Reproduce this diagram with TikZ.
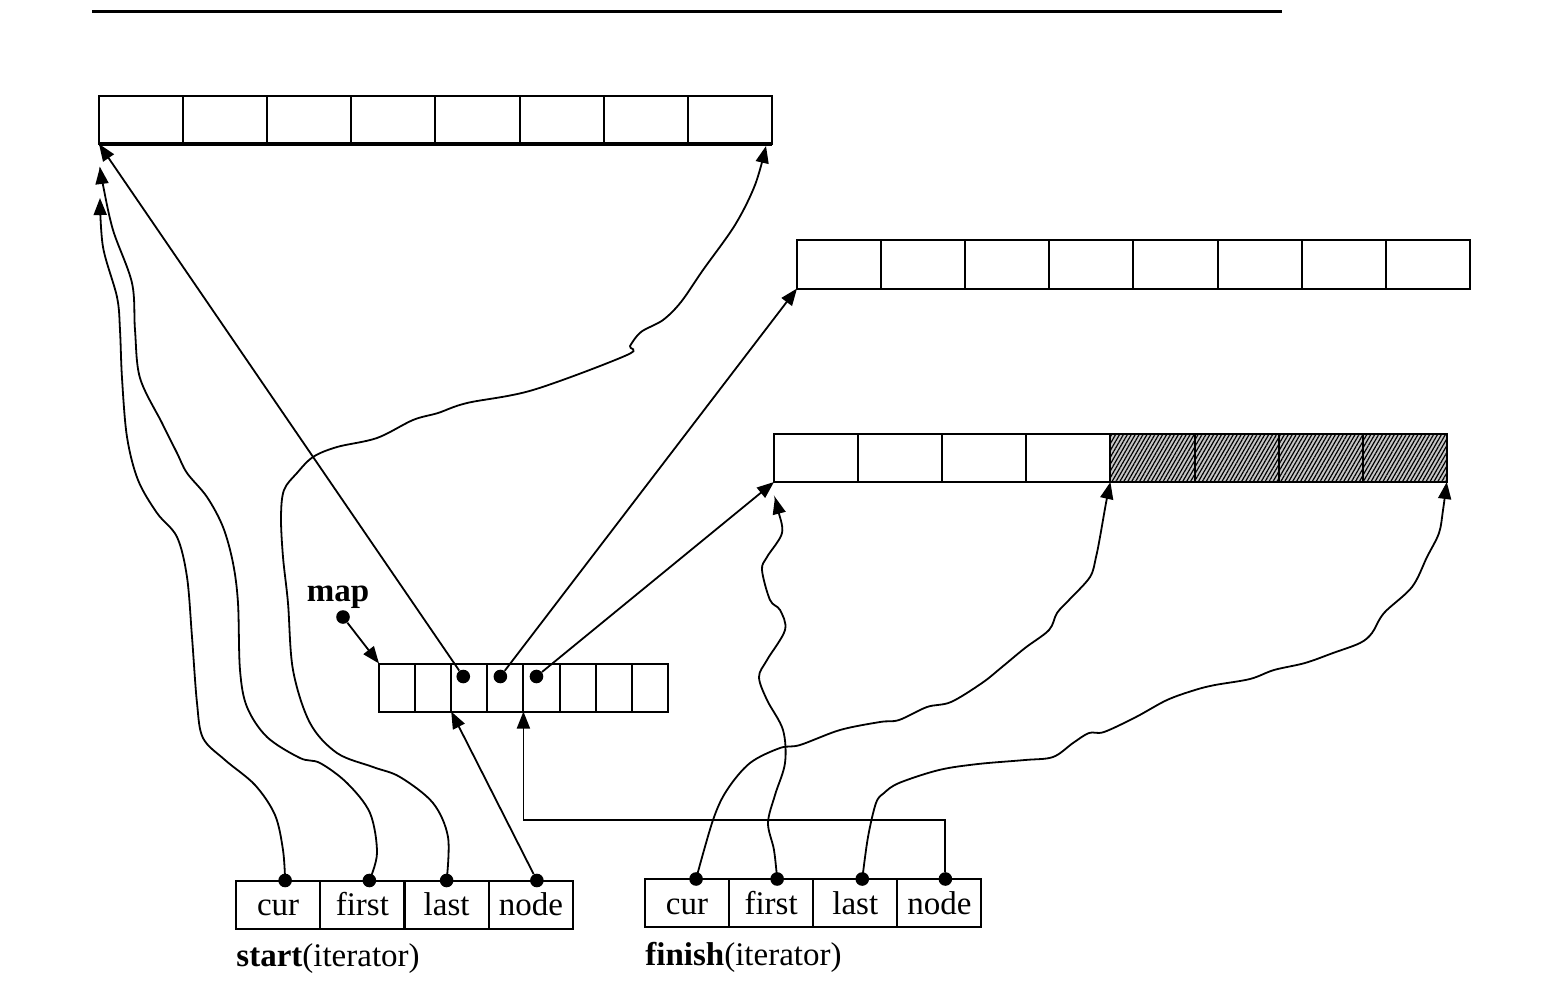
\documentclass[tikz,border=0pt]{standalone}
\usepackage{fontspec}
\setmainfont{Liberation Serif}
\usetikzlibrary{arrows.meta,patterns.meta,positioning}

\begin{document}
\begin{tikzpicture}[x=0.5pt,y=-0.5pt]
	% Styles (MODIFIABLES)
	\tikzstyle{fleche}=[-{Triangle[length=8.5pt,width=6.5pt]},line width=0.9pt]
	\tikzstyle{case}=[draw,line width=1pt,inner sep=0pt,outer sep=0pt,minimum height=24pt,text height=11pt,text depth=0pt,font=\fontsize{16.5}{18}\selectfont]
	\tikzstyle{grande}=[case,minimum width=42.05pt]
	\tikzstyle{petite}=[case,minimum width=18.05pt]
	\tikzstyle{pointe}=[circle,fill,inner sep=0pt,minimum size=6.8pt]
	\tikzstyle{legende}=[inner sep=0pt,font=\fontsize{16.5}{18}\selectfont]
	\tikzstyle{hachure}=[preaction={fill=gray!45},pattern={Lines[angle=60,distance=1.7pt,line width=0.6pt]}]
	% Dimensions (MODIFIABLES)
	\def\LargeurCase{84.1}
	\def\LargeurMap{36.1}
	\def\LargeurIter{84.25}
	\useasboundingbox (0,0) rectangle (1546,1000);
	% Filet
	\draw[line width=1.5pt] (92,12) -- (1282,12);
	% Tampons
	\foreach \i in {1,...,8}{
		\node[grande] (A\i) at ({99+\LargeurCase*(\i-0.5)},120) {};
		\node[grande] (B\i) at ({797+\LargeurCase*(\i-0.5)},264.5) {};
	}
	\foreach \i in {1,...,4}
		\node[grande] (C\i) at ({774+\LargeurCase*(\i-0.5)},458) {};
	\foreach \i in {5,...,8}
		\node[grande,hachure] (C\i) at ({774+\LargeurCase*(\i-0.5)},458) {};
	\draw[line width=1.6pt] (A1.south west) -- (A8.south east);
	% Map
	\foreach \i in {1,...,8}
		\node[petite] (M\i) at ({379+\LargeurMap*(\i-0.5)},687.5) {};
	\node[pointe] (m3) at ([xshift=-3pt,yshift=5.5pt]M3.center) {};
	\node[pointe] (m4) at ([xshift=-2.5pt,yshift=5.5pt]M4.center) {};
	\node[pointe] (m5) at ([xshift=-2.5pt,yshift=5.5pt]M5.center) {};
	\node[legende] (Lmap) at (338,597) {\textbf{map}};
	\node[pointe] (pmap) at (343,617) {};
	% Iterateurs
	\node[grande,minimum width=42.1pt] (Scur) at ({236+\LargeurIter*0.5},904.5) {cur};
	\node[grande,minimum width=42.1pt] (Sfirst) at ({236+\LargeurIter*1.5},904.5) {first};
	\node[grande,minimum width=42.1pt] (Slast) at ({236+\LargeurIter*2.5},904.5) {last};
	\node[grande,minimum width=42.1pt] (Snode) at ({236+\LargeurIter*3.5},904.5) {node};
	\node[grande] (Fcur) at ({645+\LargeurCase*0.5},903) {cur};
	\node[grande] (Ffirst) at ({645+\LargeurCase*1.5},903) {first};
	\node[grande] (Flast) at ({645+\LargeurCase*2.5},903) {last};
	\node[grande] (Fnode) at ({645+\LargeurCase*3.5},903) {node};
	\node[legende,anchor=west] (Lstart) at ([yshift=-15pt]Scur.south west) {\textbf{start}(iterator)};
	\node[legende,anchor=west] (Lfinish) at ([yshift=-15pt]Fcur.south west) {\textbf{finish}(iterator)};
	\node[pointe] (sc) at ([xshift=3.5pt]Scur.north) {};
	\node[pointe] (sf) at ([xshift=3.5pt]Sfirst.north) {};
	\node[pointe] (sl) at (Slast.north) {};
	\node[pointe] (sn) at ([xshift=3pt]Snode.north) {};
	\node[pointe] (fc) at ([xshift=4.5pt]Fcur.north) {};
	\node[pointe] (ff) at ([xshift=3pt]Ffirst.north) {};
	\node[pointe] (fl) at ([xshift=3.5pt]Flast.north) {};
	\node[pointe] (fn) at ([xshift=3pt]Fnode.north) {};
	% Extremites libres
	\coordinate (Acur) at (100,198);
	\coordinate (Afirst) at (100,167);
	\coordinate (Alast) at (766,146);
	\coordinate (Cfirst) at (775,497);
	% Arcs
	\draw[fleche] (pmap) -- (M1.north west);
	\draw[fleche] (m3) -- (A1.south west);
	\draw[fleche] (m4) -- (B1.south west);
	\draw[fleche] (m5) -- (C1.south west);
	\draw[fleche] (sn) -- (M3.south west);
	\draw[fleche] (fn) -- ++(0,-59) -| (M5.south west);
	\draw[fleche] plot[smooth,tension=0.55] coordinates {(sc) (283,850) (275,815) (255,785) (225,760) (203,738) (197,703) (192,637) (187,577) (177,537) (157,513) (138,480) (127,437) (122,378) (120,330) (117,297) (103,247) (Acur)};
	\draw[fleche] plot[smooth,tension=0.55] coordinates {(sf) (377,853) (370,813) (347,783) (320,763) (300,758) (267,737) (247,707) (240,670) (238,603) (233,563) (223,527) (207,497) (187,473) (177,453) (162,423) (140,378) (135,330) (132,283) (113,230) (103,185) (Afirst)};
	\draw[fleche] plot[smooth,tension=0.55] coordinates {(sl) (448,837) (433,803) (400,777) (373,767) (337,753) (310,723) (293,670) (288,603) (283,557) (281,517) (284,490) (297,473) (313,457) (337,447) (377,438) (413,420) (438,413) (467,403) (533,390) (627,355) (630,346) (641,332) (663,320) (681,302) (703,270) (735,225) (755,185) (Alast)};
	\draw[fleche] plot[smooth,tension=0.55] coordinates {(fc) (713,820) (727,790) (750,763) (780,748) (800,745) (840,730) (880,722) (899,720) (927,707) (951,702) (982,683) (1002,667) (1025,648) (1049,630) (1057,613) (1069,600) (1090,577) (1096,557) (1100,537) (1106,503) (C5.south west)};
	\draw[fleche] plot[smooth,tension=0.55] coordinates {(ff) (774,850) (768,823) (775,795) (785,763) (783,730) (767,700) (759,677) (767,660) (785,630) (780,610) (770,600) (762,570) (767,557) (782,533) (778,510) (Cfirst)};
	\draw[fleche] plot[smooth,tension=0.55] coordinates {(fl) (868,837) (876,803) (884,793) (899,783) (939,770) (978,764) (1025,760) (1053,757) (1073,743) (1089,733) (1104,732) (1136,717) (1167,700) (1195,690) (1215,685) (1250,679) (1274,670) (1305,663) (1333,653) (1360,643) (1372,633) (1384,613) (1412,587) (1427,557) (1439,533) (1443,510) (C8.south east)};
\end{tikzpicture}
\end{document}
